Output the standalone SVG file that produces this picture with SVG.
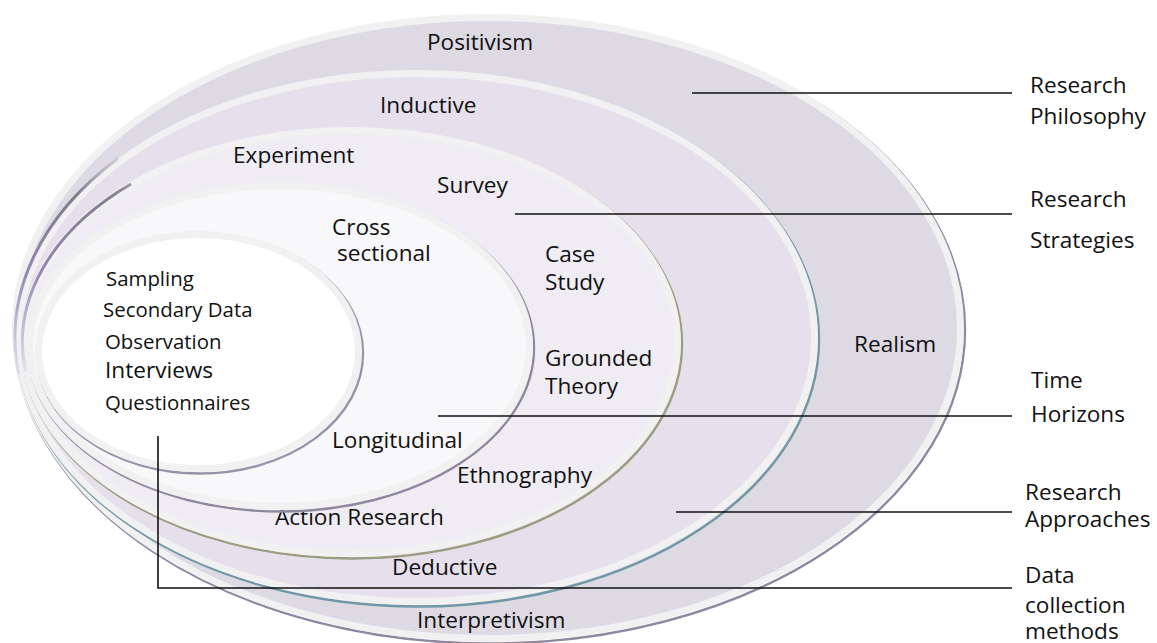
<svg xmlns="http://www.w3.org/2000/svg" width="1157" height="643" viewBox="0 0 1157 643">
<defs>
<style>
text{font-family:"Open Sans","Noto Sans","Liberation Sans",sans-serif;font-size:22.6px;fill:#111}
.sm{font-size:20.4px}
.rim{stroke:#f1f1f1;stroke-width:7}
.sh{fill:none;stroke-width:2.4}
.ln{stroke:#111;stroke-width:1.6;fill:none}
.streak{fill:none;stroke-width:3}
</style>
<linearGradient id="gs" gradientUnits="userSpaceOnUse" x1="0" y1="150" x2="0" y2="400">
<stop offset="0" stop-color="#6f6a7d" stop-opacity="0"/>
<stop offset="0.18" stop-color="#6f6a7d" stop-opacity="0.85"/>
<stop offset="0.5" stop-color="#8575ad" stop-opacity="0.85"/>
<stop offset="1" stop-color="#a79cc6" stop-opacity="0"/>
</linearGradient>
</defs>
<rect width="1157" height="643" fill="#ffffff"/>

<g id="ring-philosophy">
<ellipse cx="489.5" cy="330" rx="475.5" ry="313.5" class="sh" stroke="#8f88a0"/>
<ellipse cx="488" cy="328" rx="472.5" ry="310.5" class="rim" fill="#dddae4"/>
<text x="427" y="50">Positivism</text>
<text x="854" y="352">Realism</text>
<text x="417" y="628">Interpretivism</text>
</g>

<g id="ring-approaches">
<ellipse cx="418" cy="339.5" rx="401" ry="267" class="sh" stroke="#6f97a6"/>
<ellipse cx="416.5" cy="337.5" rx="398" ry="264" class="rim" fill="#e5e0eb"/>
<path class="streak" stroke="url(#gs)" d="M118.1,158.5 A401.5,267.5 0 0 0 18.9,374.7"/>
<text x="380" y="113">Inductive</text>
<text x="392" y="575">Deductive</text>
</g>

<g id="ring-strategies">
<ellipse cx="352" cy="344" rx="330" ry="214.5" class="sh" stroke="#9a9d7e"/>
<ellipse cx="350.5" cy="342" rx="327" ry="211.5" class="rim" fill="#efedf3"/>
<path class="streak" stroke="url(#gs)" d="M131,184 A328,213 0 0 0 25.5,371.5"/>
<text x="233" y="163">Experiment</text>
<text x="437" y="193">Survey</text>
<text x="545" y="262">Case</text>
<text x="545" y="290">Study</text>
<text x="545" y="366">Grounded</text>
<text x="545" y="394">Theory</text>
<text x="457" y="483">Ethnography</text>
<text x="275" y="525">Action Research</text>
</g>

<g id="ring-time">
<ellipse cx="281" cy="348" rx="253" ry="163.5" class="sh" stroke="#8f87a0"/>
<ellipse cx="279.5" cy="346" rx="250" ry="160.5" class="rim" fill="#f8f7fa"/>
<text x="332" y="235">Cross</text>
<text x="337" y="261">sectional</text>
<text x="332" y="448">Longitudinal</text>
</g>

<g id="ring-data">
<ellipse cx="200" cy="353.5" rx="163" ry="120" class="sh" stroke="#9a92aa"/>
<ellipse cx="198.5" cy="351.5" rx="160" ry="117" class="rim" fill="#ffffff"/>
<text class="sm" x="106" y="286">Sampling</text>
<text class="sm" x="103" y="317">Secondary Data</text>
<text class="sm" x="105" y="349">Observation</text>
<text x="105" y="378">Interviews</text>
<text class="sm" x="105" y="410">Questionnaires</text>
</g>

<g id="connectors">
<line class="ln" x1="692" y1="93" x2="1012" y2="93"/>
<line class="ln" x1="515" y1="214" x2="1012" y2="214"/>
<line class="ln" x1="438" y1="416" x2="1012" y2="416"/>
<line class="ln" x1="676" y1="512" x2="1012" y2="512"/>
<polyline class="ln" points="158,436 158,588 1012,588"/>
</g>

<g id="labels">
<text x="1030" y="93">Research</text>
<text x="1030" y="124">Philosophy</text>
<text x="1030" y="207">Research</text>
<text x="1030" y="248">Strategies</text>
<text x="1031" y="388">Time</text>
<text x="1031" y="422">Horizons</text>
<text x="1025" y="500">Research</text>
<text x="1025" y="527">Approaches</text>
<text x="1025" y="583">Data</text>
<text x="1025" y="613">collection</text>
<text x="1025" y="639">methods</text>
</g>
</svg>
